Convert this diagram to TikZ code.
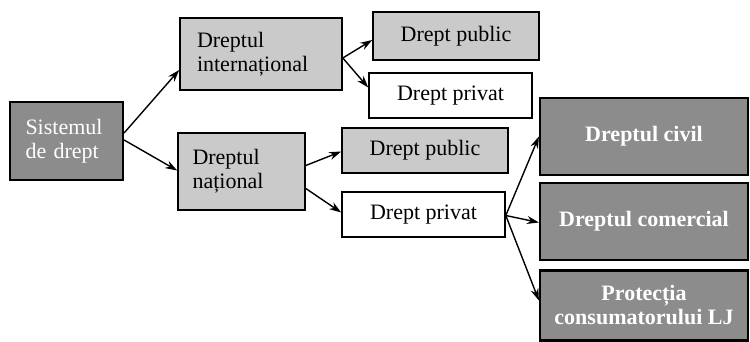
\documentclass[tikz,border=0pt]{standalone}
\usepackage{fontspec}
\setmainfont{Liberation Serif}
\usepackage{xcolor}
\usetikzlibrary{arrows.meta}
\definecolor{darkbox}{HTML}{8C8C8C}
\definecolor{lightbox}{HTML}{CACACA}
\tikzset{%
   box/.style={
      draw=black,
      line width=1.6pt,
      rectangle,
      inner sep=0pt,
      font=\fontsize{22}{24}\selectfont
   },
   lbox/.style={
      box,
      fill=lightbox
   },
   wbox/.style={
      box,
      fill=white
   },
   dbox/.style={
      box,
      fill=darkbox,
      line width=2.2pt,
      text=white,
      font=\fontsize{22}{24}\selectfont\bfseries
   },
   arr/.style={
      -{Stealth[length=12pt,width=8pt]},
      line width=1.4pt
   },
}

\begin{document}
\begin{tikzpicture}[x=1pt, y=-1pt]
   \useasboundingbox (0,0) rectangle (750,342);
   \node[dbox, font=\fontsize{22}{24}\selectfont, minimum width=113pt, minimum height=78pt,
         text width=82pt, align=left] (sis) at (66.5,141) {Sistemul\\de drept};
   \node[lbox, minimum width=162pt, minimum height=72pt,
         text width=128pt, align=left] (intl) at (261,54) {Dreptul\\internațional};
   \node[lbox, minimum width=127pt, minimum height=77pt,
         text width=98pt, align=left] (nat) at (241.5,171.5) {Dreptul\\național};
   \node[lbox, minimum width=166pt, minimum height=48pt] (pub1) at (456,36) {Drept public};
   \node[wbox, minimum width=163pt, minimum height=45pt] (priv1) at (450.5,95.5) {Drept privat};
   \node[lbox, minimum width=166pt, minimum height=45pt] (pub2) at (425,150.5) {Drept public};
   \node[wbox, minimum width=163pt, minimum height=45pt] (priv2) at (423.5,214.5) {Drept privat};
   \node[dbox, minimum width=208pt, minimum height=77pt] (civ) at (644,136.5) {Dreptul civil};
   \node[dbox, minimum width=208pt, minimum height=77pt] (com) at (644,221.5) {Dreptul comercial};
   \node[dbox, minimum width=208pt, minimum height=70pt, align=center] (prot) at (644,305.5)
         {Protecția\\consumatorului LJ};

   % sistem -> ramuri
   \draw[arr] ([yshift=8pt]sis.east) -- ([yshift=-16pt]intl.west);
   \draw[arr] ([yshift=1pt]sis.east) -- ([yshift=1pt]nat.west);
   \draw[arr] ([yshift=-4pt]intl.east) -- ([yshift=-4pt]pub1.west);
   \draw[arr] ([yshift=-4pt]intl.east) -- ([yshift=8pt]priv1.west);
   \draw[arr] ([yshift=6pt]nat.east) -- ([yshift=-1pt]pub2.west);
   \draw[arr] ([yshift=-17pt]nat.east) -- ([yshift=2pt]priv2.west);
   % drept privat -> subramuri
   \draw[arr] ([yshift=-1pt]priv2.east) -- (civ.west);
   \draw[arr] ([yshift=-1pt]priv2.east) -- ([yshift=-1pt]com.west);
   \draw[arr] ([yshift=-1pt]priv2.east) -- ([yshift=5pt]prot.west);
\end{tikzpicture}
\end{document}
